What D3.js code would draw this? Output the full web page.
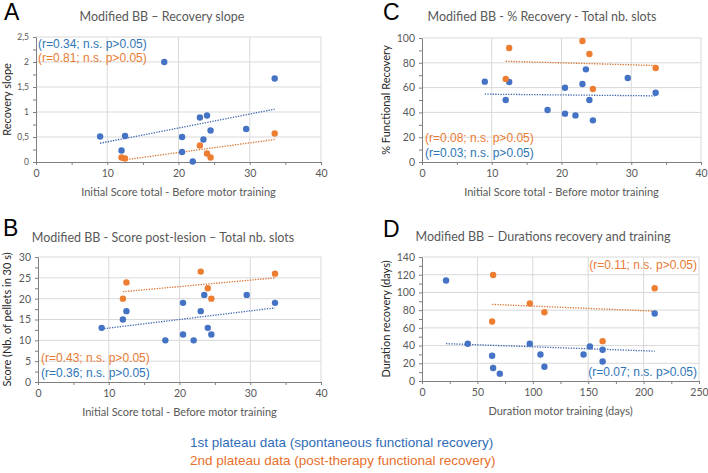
<!DOCTYPE html>
<html>
<head>
<meta charset="utf-8">
<script src="https://cdn.jsdelivr.net/npm/d3@7"></script>
<style>
  body { margin: 0; background: #fff; }
  svg { display: block; }
</style>
</head>
<body>
<div id="chart"></div>
<script>
// --- DATA ---
// initial score total before motor training, same animals in panels A, B, C
const scoreX1 = [9, 12, 12.5, 18, 20.5, 20.5, 22, 23, 23.5, 24, 24.5, 29.5, 33.5];
const scoreX2 = [12, 12.5, 23, 24, 24.5, 33.5];

const slope1 = [0.51, 0.23, 0.52, 2.0, 0.5, 0.2, 0.01, 0.89, 0.45, 0.93, 0.63, 0.66, 1.67];
const slope2 = [0.09, 0.07, 0.33, 0.17, 0.09, 0.57];

const pellets1 = [13, 15, 17, 10, 19, 11.4, 10, 17, 20.9, 13, 11.4, 20.9, 19];
const pellets2 = [20, 23.9, 26.5, 22.5, 20, 26];

const recovery1 = [64.8, 50, 64.5, 41.9, 59.9, 39, 37.6, 62.9, 74.7, 50, 33.6, 67.7, 55.9];
const recovery2 = [67, 91.9, 97.6, 87.1, 58.9, 75.8];

const training1 = [21.7, 41.3, 63.3, 64.2, 70.2, 97.3, 106.9, 110.5, 145.8, 151.5, 163, 163, 210];
const durRec1 = [113.4, 42, 28.5, 14.6, 8.3, 42, 30, 16.1, 30, 39, 35.3, 22.1, 76.2];
const training2 = [63.3, 64.2, 97.3, 110.5, 163, 210];
const durRec2 = [67.2, 119.7, 87.5, 77.7, 45, 104.7];

const panelLetters = ['A', 'B', 'C', 'D'];
const panelTitles = [
  'Modified BB \u2013 Recovery slope',
  'Modified BB - Score post-lesion \u2013 Total nb. slots',
  'Modified BB - % Recovery - Total nb. slots',
  'Modified BB \u2013 Durations recovery and training'
];
const xTitles = [
  'Initial Score total - Before motor training',
  'Initial Score total - Before motor training',
  'Initial Score total - Before motor training',
  'Duration motor training (days)'
];
const yTitles = ['Recovery slope', 'Score (Nb. of pellets in 30 s)', '% Functional Recovery', 'Duration recovery (days)'];
const stats1 = ['(r=0.34; n.s. p>0.05)', '(r=0.36; n.s. p>0.05)', '(r=0.03; n.s. p>0.05)', '(r=0.07; n.s. p>0.05)'];
const stats2 = ['(r=0.81; n.s. p>0.05)', '(r=0.43; n.s. p>0.05)', '(r=0.08; n.s. p>0.05)', '(r=0.11; n.s. p>0.05)'];
const legendLabels = [
  '1st plateau data (spontaneous functional recovery)',
  '2nd plateau data (post-therapy functional recovery)'
];

const BLUE = '#4472C4', ORANGE = '#ED7D31';
const BLUE_TXT = '#2E75B6', ORANGE_TXT = '#E97B35';
const GREY = '#595959';

const W = 708, H = 473;
const svg = d3.select('#chart').append('svg').attr('width', W).attr('height', H);

// panel layouts (plot box in px) + axis settings
const panels = [
  { box: [36, 321, 37, 162], xDom: [0, 40], xStep: 10, yDom: [0, 2.5], yStep: 0.5,
    x1: scoreX1, y1: slope1, x2: scoreX2, y2: slope2,
    letter: [4, 20], title: [162, 21], stats: 'topleft' },
  { box: [38, 321, 257, 382], xDom: [0, 40], xStep: 10, yDom: [0, 30], yStep: 5,
    x1: scoreX1, y1: pellets1, x2: scoreX2, y2: pellets2,
    letter: [3, 236], title: [163, 242], stats: 'bottomleft' },
  { box: [422, 701, 38, 162], xDom: [0, 40], xStep: 10, yDom: [0, 100], yStep: 20,
    x1: scoreX1, y1: recovery1, x2: scoreX2, y2: recovery2,
    letter: [383, 20], title: [542, 21], stats: 'bottomleft' },
  { box: [422, 699, 257, 381], xDom: [0, 250], xStep: 50, yDom: [0, 140], yStep: 20,
    x1: training1, y1: durRec1, x2: training2, y2: durRec2,
    letter: [383, 237], title: [543, 241], stats: 'right' }
];

function fit(xs, ys) {
  const mx = d3.mean(xs), my = d3.mean(ys);
  const b = d3.sum(xs, (v, i) => (v - mx) * (ys[i] - my)) / d3.sum(xs, v => (v - mx) * (v - mx));
  const a = my - b * mx;
  const ext = d3.extent(xs);
  return ext.map(v => [v, a + b * v]);
}

const commaFmt = d => String(d).replace('.', ',');

panels.forEach((p, i) => {
  const [l, r, t, b] = p.box;
  const x = d3.scaleLinear().domain(p.xDom).range([l, r]);
  const y = d3.scaleLinear().domain(p.yDom).range([b, t]);
  const g = svg.append('g');

  const xMajor = d3.range(p.xDom[0], p.xDom[1] + 1e-9, p.xStep);
  const yMajor = d3.range(p.yDom[0], p.yDom[1] + 1e-9, p.yStep);

  // grid
  g.append('g').selectAll('line').data(yMajor.slice(1)).join('line')
    .attr('x1', l).attr('x2', r).attr('y1', d => y(d)).attr('y2', d => y(d))
    .attr('stroke', '#D9D9D9').attr('stroke-width', 1);
  g.append('g').selectAll('line').data(xMajor.slice(1)).join('line')
    .attr('y1', t).attr('y2', b).attr('x1', d => x(d)).attr('x2', d => x(d))
    .attr('stroke', '#D9D9D9').attr('stroke-width', 1);

  // axes
  const xAxis = g.append('g').attr('transform', `translate(0,${b})`)
    .call(d3.axisBottom(x).tickValues(d3.range(p.xDom[0], p.xDom[1] + 1e-9, p.xStep / 2))
      .tickSize(3).tickSizeOuter(0).tickPadding(5)
      .tickFormat(d => (Math.abs(d % p.xStep) < 1e-9 ? d : '')));
  const yAxis = g.append('g').attr('transform', `translate(${l},0)`)
    .call(d3.axisLeft(y).tickValues(d3.range(p.yDom[0], p.yDom[1] + 1e-9, p.yStep / 2))
      .tickSize(3).tickSizeOuter(0).tickPadding(4)
      .tickFormat(d => (Math.abs((d / p.yStep) - Math.round(d / p.yStep)) < 1e-9 ? commaFmt(d) : '')));
  [xAxis, yAxis].forEach(ax => {
    ax.selectAll('path, line').attr('stroke', '#7F7F7F');
    ax.selectAll('text').attr('fill', GREY).style('font-family', 'Lato, sans-serif').style('font-size', '10.5px');
  });
  yAxis.selectAll('text').style('font-size', i === 0 ? '8.5px' : '10.5px');

  // trend lines
  const line = d3.line().x(d => x(d[0])).y(d => y(d[1]));
  [[p.x1, p.y1, '#3F66B0'], [p.x2, p.y2, '#D9732E']].forEach(([xs, ys, c]) => {
    g.append('path').datum(fit(xs, ys)).attr('d', line)
      .attr('fill', 'none').attr('stroke', c).attr('stroke-width', 1.3).attr('stroke-dasharray', '1.3,1.3');
  });

  // points
  g.append('g').selectAll('circle').data(p.x1.map((v, k) => [v, p.y1[k]])).join('circle')
    .attr('cx', d => x(d[0])).attr('cy', d => y(d[1])).attr('r', 3.2).attr('fill', BLUE);
  g.append('g').selectAll('circle').data(p.x2.map((v, k) => [v, p.y2[k]])).join('circle')
    .attr('cx', d => x(d[0])).attr('cy', d => y(d[1])).attr('r', 3.2).attr('fill', ORANGE);

  // stats text
  const st = g.append('g').style('font-family', 'Liberation Sans, Arial, sans-serif').style('font-size', '12px');
  if (p.stats === 'topleft') {
    st.append('text').attr('x', l + 2).attr('y', t + 11).attr('fill', BLUE_TXT).text(stats1[i]);
    st.append('text').attr('x', l + 2).attr('y', t + 25).attr('fill', ORANGE_TXT).text(stats2[i]);
  } else if (p.stats === 'bottomleft') {
    st.append('text').attr('x', l + 3).attr('y', b - 20).attr('fill', ORANGE_TXT).text(stats2[i]);
    st.append('text').attr('x', l + 3).attr('y', b - 5).attr('fill', BLUE_TXT).text(stats1[i]);
  } else {
    st.append('text').attr('x', r - 2).attr('y', t + 12).attr('text-anchor', 'end').attr('fill', ORANGE_TXT).text(stats2[i]);
    st.append('text').attr('x', r - 2).attr('y', b - 5).attr('text-anchor', 'end').attr('fill', BLUE_TXT).text(stats1[i]);
  }

  // titles
  g.append('text').attr('x', p.letter[0]).attr('y', p.letter[1])
    .style('font-family', 'Liberation Sans, Arial, sans-serif').style('font-size', '23px').attr('fill', '#000')
    .text(panelLetters[i]);
  g.append('text').attr('x', p.title[0]).attr('y', p.title[1]).attr('text-anchor', 'middle')
    .style('font-family', 'Lato, sans-serif').style('font-size', '12.5px').attr('fill', GREY)
    .text(panelTitles[i]);
  g.append('text').attr('x', (l + r) / 2).attr('y', b + 34).attr('text-anchor', 'middle')
    .style('font-family', 'Lato, sans-serif').style('font-size', '11px').attr('fill', GREY)
    .text(xTitles[i]);
  const yx = l < 100 ? 11 : 390;
  g.append('text').attr('transform', `translate(${yx},${(t + b) / 2}) rotate(-90)`).attr('text-anchor', 'middle')
    .style('font-family', 'Lato, sans-serif').style('font-size', '11px').attr('fill', '#262626')
    .text(yTitles[i]);
});

// legend
svg.append('g').style('font-family', 'Liberation Sans, Arial, sans-serif').style('font-size', '13.5px')
  .selectAll('text').data(legendLabels).join('text')
  .attr('x', 190).attr('y', (d, k) => 447 + k * 18)
  .attr('fill', (d, k) => (k === 0 ? '#2F6DB8' : '#E8702A'))
  .text(d => d);
</script>
</body>
</html>
